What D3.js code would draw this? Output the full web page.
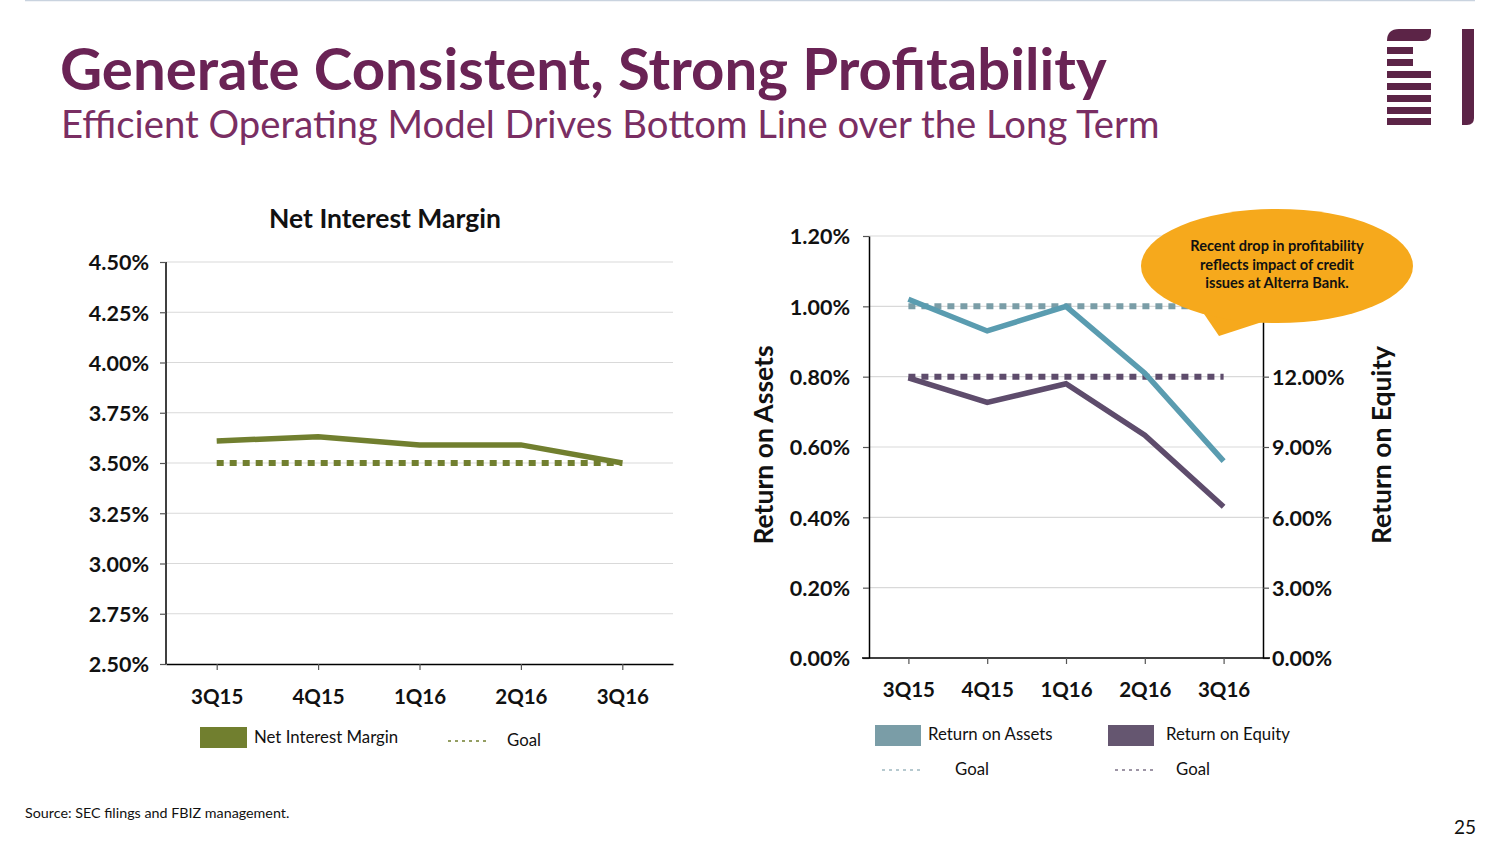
<!DOCTYPE html>
<html><head><meta charset="utf-8">
<script src="https://cdn.jsdelivr.net/npm/d3@7"></script>
<style>
html,body{margin:0;padding:0;background:#fff;}
svg{display:block;font-family:Lato,"Open Sans",sans-serif;}
</style></head>
<body>
<svg id="c" width="1504" height="846"></svg>
<script>
const quarters = ["3Q15","4Q15","1Q16","2Q16","3Q16"];
const nimValues = [3.61, 3.63, 3.59, 3.59, 3.50];
const nimGoal = [3.50, 3.50, 3.50, 3.50, 3.50];
const nimTicks = [2.50, 2.75, 3.00, 3.25, 3.50, 3.75, 4.00, 4.25, 4.50];
const roaValues = [1.02, 0.93, 1.00, 0.81, 0.56];
const roaGoal = [1.00, 1.00, 1.00, 1.00, 1.00];
const roeValues = [11.95, 10.9, 11.7, 9.5, 6.45];
const roeGoal = [12.0, 12.0, 12.0, 12.0, 12.0];
const roaTicks = [0, 0.2, 0.4, 0.6, 0.8, 1.0, 1.2];
const roeTicks = [0, 3, 6, 9, 12, 15, 18];
const roeHiddenLabels = [15, 18]; // covered by the callout in the original

const svg = d3.select("#c");
const purple = "#6A2355";
const olive = "#717F2F";
const teal = "#5A9CB0";
const tealGoal = "#7A9DA7";
const plum = "#5E4C6C";
const grid = "#D9D9D9";

function fit(sel, w){
  const n = sel.node(); const cur = n.getComputedTextLength();
  const fs = parseFloat(sel.attr("font-size"));
  sel.attr("font-size", fs * w / cur);
}

// top rule
svg.append("line").attr("x1",25).attr("x2",1475).attr("y1",0.5).attr("y2",0.5)
  .attr("stroke","#C9D3DF").attr("stroke-width",1.5);

// Title
fit(svg.append("text").attr("x",60).attr("y",90).attr("font-size",52).attr("font-weight","bold")
  .attr("fill",purple).text("Generate Consistent, Strong Profitability"), 1047);
fit(svg.append("text").attr("x",61).attr("y",138).attr("font-size",36)
  .attr("fill","#7A2E63").text("Efficient Operating Model Drives Bottom Line over the Long Term"), 1099);

// logo
const logo = svg.append("g").attr("fill","#5C2447");
logo.append("path").attr("d","M1387,41 Q1387,29 1399,29 L1431,29 L1431,33 Q1431,41 1423,41 Z");
[[47,1413],[59,1413],[71,1431],[83,1431],[95,1431],[107,1431],[118,1431]].forEach(([y,x2])=>{
  logo.append("rect").attr("x",1387).attr("y",y).attr("width",x2-1387).attr("height",7);
});
logo.append("path").attr("d","M1462,29 L1474,29 L1474,118 Q1474,125 1467,125 L1462,125 Z");

// ---------- Left chart ----------
const L = {x0:166, x1:673, y0:262, y1:664};
const xL = d3.scalePoint().domain(quarters).range([L.x0, L.x1]).padding(0.5);
const yL = d3.scaleLinear().domain([2.5,4.5]).range([L.y1, L.y0]);
const gL = svg.append("g");
gL.selectAll("line.g").data(nimTicks.slice(1)).join("line")
  .attr("x1",L.x0).attr("x2",L.x1).attr("y1",d=>yL(d)).attr("y2",d=>yL(d))
  .attr("stroke",grid).attr("stroke-width",1.2);
const axL = gL.append("g").attr("transform",`translate(${L.x0},0)`)
  .call(d3.axisLeft(yL).tickValues(nimTicks).tickFormat(d=>d.toFixed(2)+"%").tickSize(6).tickSizeOuter(0));
const axLB = gL.append("g").attr("transform",`translate(0,${L.y1})`)
  .call(d3.axisBottom(xL).tickSize(6).tickSizeOuter(0));
[axL, axLB].forEach(a=>{
  a.select(".domain").attr("stroke","#000").attr("stroke-width",1.5);
  a.selectAll(".tick line").attr("stroke","#555").attr("stroke-width",1.2);
  a.selectAll("text").attr("font-family","Lato").attr("font-weight","bold").attr("fill","#111");
});
axL.selectAll("text").attr("font-size",21.5).attr("x",-17).attr("dy","0.36em");
axLB.selectAll("text").attr("font-size",20.5).attr("y",25).attr("dy","0.72em");
axL.select(".domain").attr("d",`M0,${L.y0}V${L.y1}`);

gL.append("path").datum(nimGoal).attr("fill","none").attr("stroke",olive).attr("stroke-width",6)
  .attr("stroke-dasharray","7,6")
  .attr("d", d3.line().x((d,i)=>xL(quarters[i])).y(d=>yL(d)));
gL.append("path").datum(nimValues).attr("fill","none").attr("stroke",olive).attr("stroke-width",5.5)
  .attr("d", d3.line().x((d,i)=>xL(quarters[i])).y(d=>yL(d)));

gL.append("text").attr("x",385).attr("y",228).attr("text-anchor","middle").attr("font-size",26.5)
  .attr("font-weight","bold").attr("fill","#111").text("Net Interest Margin");

// left legend
gL.append("rect").attr("x",200).attr("y",727).attr("width",47).attr("height",21).attr("fill",olive);
gL.append("text").attr("x",254).attr("y",743).attr("font-size",16.8).attr("fill","#111").text("Net Interest Margin");
gL.append("line").attr("x1",448).attr("x2",488).attr("y1",741).attr("y2",741)
  .attr("stroke",olive).attr("stroke-width",1.3).attr("stroke-dasharray","3,4");
gL.append("text").attr("x",507).attr("y",746).attr("font-size",16.8).attr("fill","#111").text("Goal");

// ---------- Right chart ----------
const R = {x0:869, x1:1263, y0:236, y1:658};
const xR = d3.scalePoint().domain(quarters).range([R.x0, R.x1]).padding(0.5);
const yRA = d3.scaleLinear().domain([0,1.2]).range([R.y1, R.y0]);
const yRE = d3.scaleLinear().domain([0,18]).range([R.y1, R.y0]);
const gR = svg.append("g");
gR.selectAll("line.g").data(roaTicks.slice(1)).join("line")
  .attr("x1",R.x0).attr("x2",R.x1).attr("y1",d=>yRA(d)).attr("y2",d=>yRA(d))
  .attr("stroke",grid).attr("stroke-width",1.2);
const axRA = gR.append("g").attr("transform",`translate(${R.x0},0)`)
  .call(d3.axisLeft(yRA).tickValues(roaTicks).tickFormat(d=>d.toFixed(2)+"%").tickSize(6).tickSizeOuter(0));
const axRE = gR.append("g").attr("transform",`translate(${R.x1},0)`)
  .call(d3.axisRight(yRE).tickValues(roeTicks)
    .tickFormat(d=>roeHiddenLabels.includes(d) ? "" : d.toFixed(2)+"%").tickSize(6).tickSizeOuter(0));
const axRB = gR.append("g").attr("transform",`translate(0,${R.y1})`)
  .call(d3.axisBottom(xR).tickSize(6).tickSizeOuter(0));
[axRA, axRE, axRB].forEach(a=>{
  a.select(".domain").attr("stroke","#000").attr("stroke-width",1.5);
  a.selectAll(".tick line").attr("stroke","#555").attr("stroke-width",1.2);
  a.selectAll("text").attr("font-family","Lato").attr("font-weight","bold").attr("fill","#111").attr("font-size",21.5);
});
axRA.selectAll("text").attr("x",-19).attr("dy","0.36em");
axRE.selectAll("text").attr("x",9).attr("dy","0.36em");
axRB.selectAll("text").attr("font-size",20.5).attr("y",24).attr("dy","0.72em");
axRB.select(".domain").attr("d",`M${R.x0-7},0H${R.x1+7}`);

const lnA = d3.line().x((d,i)=>xR(quarters[i])).y(d=>yRA(d));
const lnE = d3.line().x((d,i)=>xR(quarters[i])).y(d=>yRE(d));
gR.append("path").datum(roaGoal).attr("fill","none").attr("stroke",tealGoal).attr("stroke-width",6)
  .attr("stroke-dasharray","7,6").attr("d",lnA);
gR.append("path").datum(roeGoal).attr("fill","none").attr("stroke",plum).attr("stroke-width",6)
  .attr("stroke-dasharray","7,6").attr("d",lnE);
gR.append("path").datum(roeValues).attr("fill","none").attr("stroke",plum).attr("stroke-width",5.5).attr("d",lnE);
gR.append("path").datum(roaValues).attr("fill","none").attr("stroke",teal).attr("stroke-width",5.5).attr("d",lnA);

gR.append("text").attr("transform","translate(773,445) rotate(-90)").attr("text-anchor","middle")
  .attr("font-size",26.5).attr("font-weight","bold").attr("fill","#111").text("Return on Assets");
gR.append("text").attr("transform","translate(1391,445) rotate(-90)").attr("text-anchor","middle")
  .attr("font-size",26.5).attr("font-weight","bold").attr("fill","#111").text("Return on Equity");

// right legend
gR.append("rect").attr("x",875).attr("y",725).attr("width",46).attr("height",21).attr("fill","#7A9DA7");
gR.append("text").attr("x",928).attr("y",740).attr("font-size",16.8).attr("fill","#111").text("Return on Assets");
gR.append("rect").attr("x",1108).attr("y",725).attr("width",46).attr("height",21).attr("fill","#655670");
gR.append("text").attr("x",1166).attr("y",740).attr("font-size",16.8).attr("fill","#111").text("Return on Equity");
gR.append("line").attr("x1",882).attr("x2",921).attr("y1",770).attr("y2",770)
  .attr("stroke","#9FB8C0").attr("stroke-width",1.3).attr("stroke-dasharray","3,4");
gR.append("text").attr("x",955).attr("y",775).attr("font-size",16.8).attr("fill","#111").text("Goal");
gR.append("line").attr("x1",1115).attr("x2",1155).attr("y1",770).attr("y2",770)
  .attr("stroke","#7E7388").attr("stroke-width",1.3).attr("stroke-dasharray","3,4");
gR.append("text").attr("x",1176).attr("y",775).attr("font-size",16.8).attr("fill","#111").text("Goal");

// callout
const co = svg.append("g");
co.append("path").attr("d","M1200,308 L1219,336 L1262,322 Z").attr("fill","#F6A91C");
co.append("ellipse").attr("cx",1277).attr("cy",266).attr("rx",136).attr("ry",57).attr("fill","#F6A91C");
["Recent drop in profitability","reflects impact of credit","issues at Alterra Bank."].forEach((t,i)=>{
  co.append("text").attr("x",1277).attr("y",251+i*18.5).attr("text-anchor","middle")
    .attr("font-size",14.6).attr("font-weight","bold").attr("fill","#111").text(t);
});

// footer
svg.append("text").attr("x",25).attr("y",818).attr("font-size",14.3).attr("fill","#111")
  .text("Source: SEC filings and FBIZ management.");
svg.append("text").attr("x",1476).attr("y",834).attr("text-anchor","end").attr("font-size",19).attr("fill","#111").text("25");
</script>
</body></html>
